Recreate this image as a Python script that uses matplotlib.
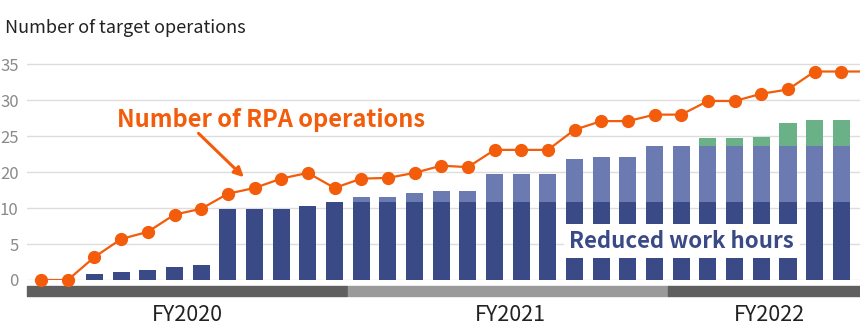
import matplotlib
matplotlib.use("Agg")
import matplotlib.pyplot as plt
import numpy as np

plt.rcParams['font.family'] = ['Noto Sans CJK JP', 'DejaVu Sans']

# monthly index 0..30 (+ one point just past the right edge)
rpa_ops = [0, 0, 3.2, 5.7, 6.7, 9.1, 9.9, 12.0, 12.8, 14.1, 14.9, 12.8, 14.1, 14.2, 14.9,
           15.9, 15.7, 18.1, 18.1, 18.1, 20.9, 22.1, 22.1, 23.0, 23.0, 24.9, 24.9, 25.9,
           26.5, 29.0, 29.0, 29.0]
dark = [0, 0, 0.8, 1.1, 1.4, 1.8, 2.1, 9.9, 9.9, 9.9, 10.3, 10.8, 10.8, 10.8, 10.8, 10.8,
        10.8, 10.8, 10.8, 10.8, 10.8, 10.8, 10.8, 10.8, 10.8, 10.8, 10.8, 10.8, 10.8, 10.8, 10.8]
medium = [0, 0, 0, 0, 0, 0, 0, 0, 0, 0, 0, 0, 0.8, 0.8, 1.3, 1.6, 1.6, 4.0, 4.0, 4.0,
          6.0, 6.3, 6.3, 7.8, 7.8, 7.8, 7.8, 7.8, 7.8, 7.8, 7.8]
green = [0, 0, 0, 0, 0, 0, 0, 0, 0, 0, 0, 0, 0, 0, 0, 0, 0, 0, 0, 0, 0, 0, 0, 0, 0,
         1.1, 1.1, 1.3, 3.2, 3.6, 3.6]
ytick_labels = ['0', '5', '10', '20', '25', '30', '35']
years = ['FY2020', 'FY2021', 'FY2022']
year_spans = [(-0.53, 12.0), (11.5, 12.0), (23.5, 7.3)]
year_colors = ['#5f5f5f', '#9a9a9a', '#5f5f5f']
year_centers = [5.5, 17.6, 27.3]

ORANGE = '#f25c0a'
DARK = '#3a4a87'
MED = '#6b7bb2'
GREEN = '#6bb187'

fig = plt.figure(figsize=(8.6, 3.3), dpi=100)
ax = fig.add_axes([27 / 860, 50 / 330, 833 / 860, 220 / 330])

x = np.arange(len(dark))
dark = np.array(dark)
medium = np.array(medium)
green = np.array(green)

ax.bar(x, dark, width=0.64, color=DARK, zorder=2)
ax.bar(x, medium, width=0.64, bottom=dark, color=MED, zorder=2)
ax.bar(x, green, width=0.64, bottom=dark + medium, color=GREEN, zorder=2)

xl = np.arange(len(rpa_ops))
ax.plot(xl, rpa_ops, color=ORANGE, lw=1.6, zorder=4)
ax.plot(xl[:31], rpa_ops[:31], 'o', color=ORANGE, ms=8.5, zorder=5, clip_on=False)

ax.set_xlim(-0.53, 30.7)
ax.set_ylim(0, 30.6)
ax.set_yticks(np.arange(0, 31, 5))
ax.set_yticklabels(ytick_labels)
ax.tick_params(axis='y', length=0, pad=6, labelsize=12, labelcolor='#8a8a8a')
ax.set_xticks([])
ax.grid(axis='y', color='#dddddd', lw=1, zorder=0)
for s in ax.spines.values():
    s.set_visible(False)

# fiscal year bands below the axis
for span, c in zip(year_spans, year_colors):
    ax.broken_barh([span], (-2.2, 1.4), color=c, clip_on=False)
for yr, xc in zip(years, year_centers):
    ax.text(xc, -4.9, yr, ha='center', va='center', fontsize=15.5, color='#222222')

fig.text(5 / 860, 1 - 28 / 330, 'Number of target operations', fontsize=13,
         color='#222222', va='center', ha='left')

ax.text(2.85, 22.3, 'Number of RPA operations', fontsize=17, fontweight='bold',
        color=ORANGE, ha='left', va='center', zorder=6)
ax.annotate('', xy=(7.6, 14.3), xytext=(5.9, 20.4),
            arrowprops=dict(arrowstyle='-|>', color=ORANGE, lw=2.2, mutation_scale=14,
                            shrinkA=0, shrinkB=0), zorder=6)

ax.text(19.8, 5.4, 'Reduced work hours', fontsize=16, fontweight='bold', color=DARK,
        ha='left', va='center', zorder=6,
        bbox=dict(boxstyle='square,pad=0.25', fc='white', ec='none'))

fig.savefig('out.png', dpi=100)
